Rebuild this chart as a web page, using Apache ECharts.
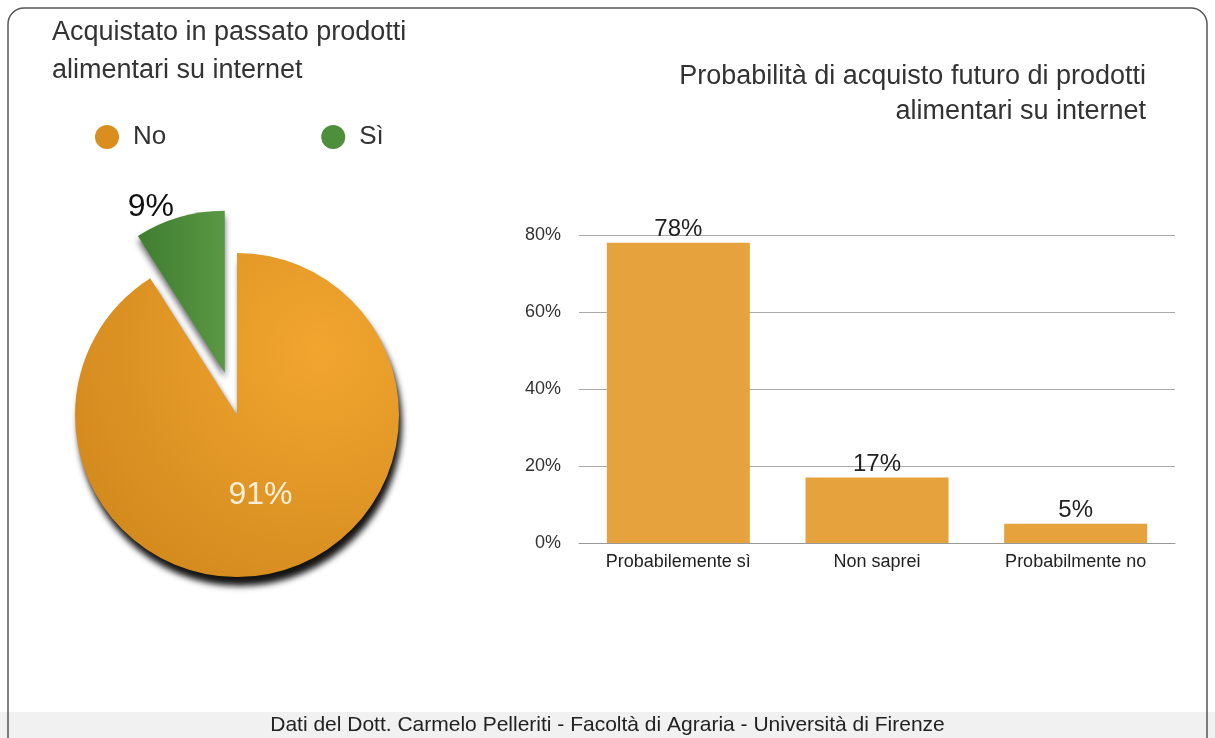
<!DOCTYPE html>
<html>
<head>
<meta charset="utf-8">
<script src="https://cdn.jsdelivr.net/npm/echarts@6/dist/echarts.min.js"></script>
<style>
html,body{margin:0;padding:0;background:#fff;}
#c{width:1215px;height:738px;}
</style>
</head>
<body>
<div id="c"></div>
<script>
// ---- data ----
const pieTitle = 'Acquistato in passato prodotti\nalimentari su internet';
const barTitleLines = ['Probabilità di acquisto futuro di prodotti', 'alimentari su internet'];
const pieNames = ['Sì', 'No'];
const pieValues = [9, 91];
const legendOrder = ['No', 'Sì'];
const barCategories = ['Probabilemente sì', 'Non saprei', 'Probabilmente no'];
const barValues = [78, 17, 5];
const yTicks = [0, 20, 40, 60, 80];
const footer = 'Dati del Dott. Carmelo Pelleriti - Facoltà di Agraria - Università di Firenze';

const FONT = '"Liberation Sans", Arial, sans-serif';
const ORANGE = '#D98E1E';
const GREEN = '#4E8F3C';
const orangeFill = new echarts.graphic.RadialGradient(0.75, 0.3, 0.95, [
  {offset: 0, color: '#F2A630'}, {offset: 1, color: '#CF861B'}]);
const greenFill = new echarts.graphic.LinearGradient(0, 0, 1, 0, [
  {offset: 0, color: '#3F7D30'}, {offset: 1, color: '#5A9845'}]);

const titleStyle = {fontFamily: FONT, fontSize: 27, fontWeight: 'normal', color: '#333'};

const chart = echarts.init(document.getElementById('c'), null, {renderer: 'canvas'});
chart.setOption({
  backgroundColor: '#fff',
  animation: false,
  textStyle: {fontFamily: FONT},
  graphic: [
    {type: 'rect', shape: {x: 0, y: 712, width: 1215, height: 26}, style: {fill: '#f1f1f1'}, z: 0},
    {type: 'rect', shape: {x: 8, y: 8, width: 1199, height: 760, r: 16},
     style: {fill: 'none', stroke: '#555', lineWidth: 1.5}, z: 1}
  ],
  title: [
    {text: pieTitle, left: 47, top: 9,
     textStyle: Object.assign({lineHeight: 38}, titleStyle)},
    {text: barTitleLines[0], right: 64, top: 58, textStyle: titleStyle},
    {text: barTitleLines[1], right: 64, top: 93, textStyle: titleStyle},
    {text: footer, left: 'center', top: 710,
     textStyle: {fontFamily: FONT, fontSize: 21, fontWeight: 'normal', color: '#222'}}
  ],
  legend: {
    data: [
      {name: legendOrder[0], itemStyle: {color: ORANGE}},
      {name: legendOrder[1], itemStyle: {color: GREEN}}
    ],
    left: 90, top: 119,
    icon: 'circle', itemWidth: 24, itemHeight: 24, itemGap: 155,
    textStyle: {fontFamily: FONT, fontSize: 26, color: '#333', padding: [0, 0, 0, 9]}
  },
  grid: {left: 579, width: 596, top: 235, height: 308},
  xAxis: {
    type: 'category', data: barCategories,
    axisLine: {lineStyle: {color: '#999'}}, axisTick: {show: false},
    axisLabel: {fontFamily: FONT, fontSize: 18, color: '#222', margin: 10}
  },
  yAxis: {
    type: 'value', min: 0, max: 80, interval: 20,
    axisLine: {show: false}, axisTick: {show: false},
    axisLabel: {fontFamily: FONT, fontSize: 18, color: '#333', margin: 18,
      formatter: v => yTicks.includes(v) ? v + '%' : ''},
    splitLine: {lineStyle: {color: '#aaa', width: 1}}
  },
  series: [
    {
      type: 'pie',
      center: [237, 415], radius: [0, 162],
      startAngle: 90 + 360 * pieValues[0] / 100,
      clockwise: true,
      selectedMode: 'single', selectedOffset: 44,
      legendHoverLink: false,
      emphasis: {disabled: true},
      labelLayout: p => (p.dataIndex === 0 ? {dx: 0, dy: -8} : {}),
      data: [
        {name: pieNames[0], value: pieValues[0], selected: true,
         itemStyle: {color: greenFill, shadowBlur: 6, shadowOffsetY: 5, shadowColor: 'rgba(0,0,0,0.6)'},
         label: {show: true, position: 'outside', fontFamily: FONT, fontSize: 32, color: '#111',
                 formatter: '{c}%'},
         labelLine: {show: false, length: 2, length2: 0}},
        {name: pieNames[1], value: pieValues[1],
         itemStyle: {color: orangeFill, shadowBlur: 6, shadowOffsetX: 3, shadowOffsetY: 9, shadowColor: 'rgba(0,0,0,0.92)'},
         label: {show: true, position: 'inside', fontFamily: FONT, fontSize: 32, color: '#FBEFD9', formatter: '{c}%'}}
      ]
    },
    {
      type: 'bar',
      data: barValues,
      barWidth: 143,
      itemStyle: {color: '#E5A23D'},
      label: {show: true, position: 'top', distance: 1, formatter: '{c}%', fontFamily: FONT, fontSize: 24, color: '#222'}
    }
  ]
});
</script>
</body>
</html>
